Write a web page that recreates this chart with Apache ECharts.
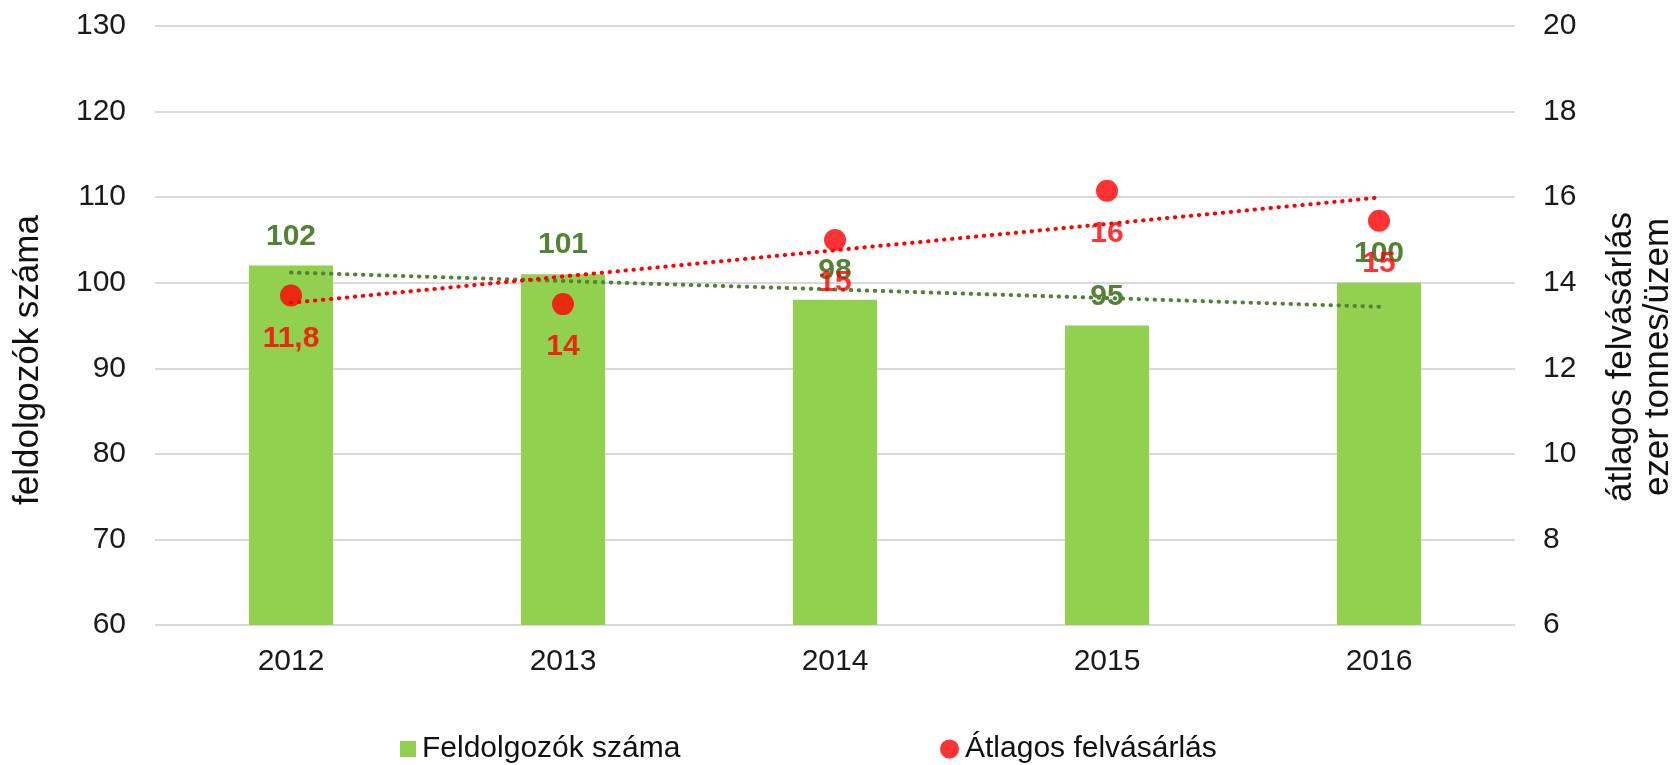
<!DOCTYPE html>
<html><head><meta charset="utf-8">
<script src="https://cdn.jsdelivr.net/npm/echarts@6/dist/echarts.min.js"></script>
<style>html,body{margin:0;padding:0;background:#fff}#c{width:1680px;height:765px}</style>
</head><body><div id="c"></div>
<script>
const categories = ['2012','2013','2014','2015','2016'];
const processors = [102, 101, 98, 95, 100];
const avgPurchase = [13.7, 13.5, 15.0, 16.15, 15.45];
const avgPurchaseLabels = ['11,8', '14', '15', '16', '15'];
const leftTicks = {min: 60, max: 130, interval: 10};
const rightTicks = {min: 6, max: 20, interval: 2};
const seriesNames = ['Feldolgozók száma', 'Átlagos felvásárlás'];
const axisTitles = ['feldolgozók száma', 'átlagos felvásárlás\nezer tonnes/üzem'];

function linearTrend(vals){
  const n = vals.length; let sx=0, sy=0, sxy=0, sxx=0;
  vals.forEach((v,i)=>{sx+=i; sy+=v; sxy+=i*v; sxx+=i*i;});
  const b = (n*sxy - sx*sy)/(n*sxx - sx*sx); const a = (sy - b*sx)/n;
  return vals.map((_,i)=>a+b*i);
}

const FONT = "'Liberation Sans', Arial, sans-serif";
const GREEN = '#92D050', DKGREEN = '#548235', RED = '#FF0000';
const chart = echarts.init(document.getElementById('c'), null, {renderer:'canvas'});
chart.setOption({
  animation: false,
  textStyle: {fontFamily: FONT},
  grid: {left: 155, right: 165, top: 26, bottom: 140, containLabel: false},
  legend: [
    {data: [seriesNames[0]], left: 395, top: 729, icon: 'rect', itemWidth: 16, itemHeight: 16, itemGap: 6,
     textStyle: {fontFamily: FONT, fontSize: 30, color: '#111', padding: [0,0,0,1]}},
    {data: [seriesNames[1]], left: 935, top: 729, icon: 'circle', itemWidth: 19, itemHeight: 19, itemGap: 6,
     textStyle: {fontFamily: FONT, fontSize: 30, color: '#111', padding: [0,0,0,1]}}
  ],
  xAxis: {type: 'category', data: categories,
    axisLine: {show: false}, axisTick: {show: false},
    axisLabel: {fontSize: 30, color: '#1a1a1a', margin: 22, fontFamily: FONT}},
  yAxis: [
    {type: 'value', min: leftTicks.min, max: leftTicks.max, interval: leftTicks.interval,
     axisLine: {show: false}, axisTick: {show: false},
     splitLine: {lineStyle: {color: '#d9d9d9', width: 2}},
     axisLabel: {fontSize: 30, color: '#1a1a1a', margin: 29, fontFamily: FONT}},
    {type: 'value', min: rightTicks.min, max: rightTicks.max, interval: rightTicks.interval,
     axisLine: {show: false}, axisTick: {show: false}, splitLine: {show: false},
     axisLabel: {fontSize: 30, color: '#1a1a1a', margin: 28, fontFamily: FONT}}
  ],
  graphic: [
    {type: 'text', rotation: Math.PI/2, x: 28, y: 360,
     style: {text: axisTitles[0], fontSize: 35, fontFamily: FONT, fill: '#111', textAlign: 'center', textVerticalAlign: 'middle'}},
    {type: 'text', rotation: Math.PI/2, x: 1640, y: 357,
     style: {text: axisTitles[1], fontSize: 35, lineHeight: 37, fontFamily: FONT, fill: '#111', textAlign: 'center', textVerticalAlign: 'middle'}}
  ],
  series: [
    {name: seriesNames[0], type: 'bar', data: processors, barWidth: 84, itemStyle: {color: GREEN}, z: 1,
     label: {show: true, position: 'top', distance: 14, fontSize: 30, fontWeight: 'bold', color: DKGREEN, fontFamily: FONT}},
    {name: 'trend1', type: 'line', data: linearTrend(processors), symbol: 'none', z: 3, silent: true,
     lineStyle: {color: DKGREEN, width: 4, type: [0.5, 7.5], cap: 'round'}},
    {name: 'trend2', type: 'line', yAxisIndex: 1, data: linearTrend(avgPurchase), symbol: 'none', z: 3, silent: true,
     lineStyle: {color: RED, width: 4, type: [0.5, 7.5], cap: 'round'}},
    {name: seriesNames[1], type: 'scatter', yAxisIndex: 1, data: avgPurchase, symbol: 'circle', symbolSize: 22,
     itemStyle: {color: RED}, z: 5,
     label: {show: true, position: 'bottom', distance: 17, fontSize: 30, fontWeight: 'bold', color: RED, fontFamily: FONT,
       formatter: p => avgPurchaseLabels[p.dataIndex]}}
  ]
});
</script></body></html>
